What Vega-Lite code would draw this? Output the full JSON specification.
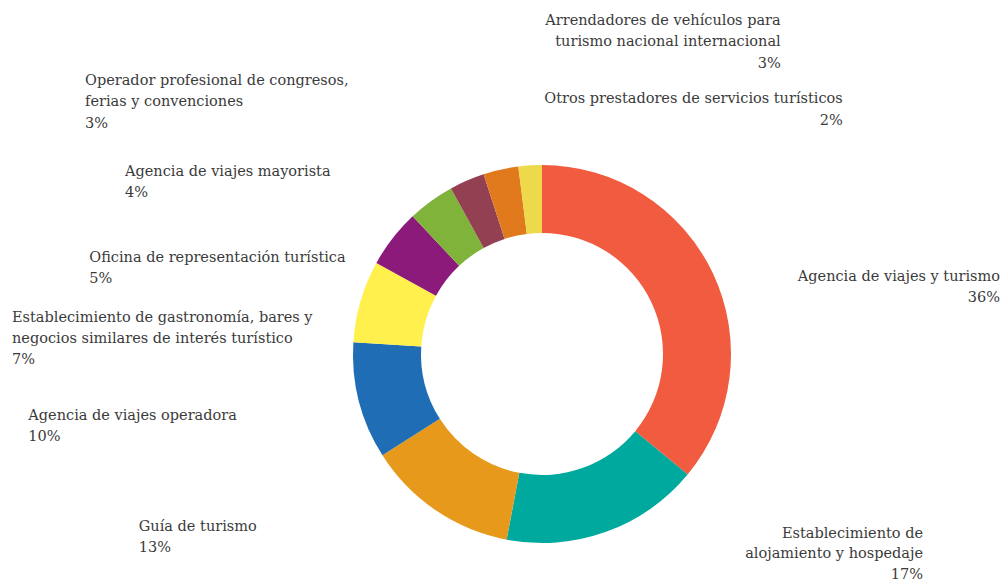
{
  "$schema": "https://vega.github.io/schema/vega-lite/v6.json",
  "autosize": "none",
  "width": 924,
  "height": 456,
  "padding": {"left": 80, "top": 126, "right": 0, "bottom": 0},
  "background": "white",
  "config": {
    "view": {"stroke": null},
    "text": {"font": "DejaVu Serif", "fontSize": 14.5, "fill": "#3b3b3b", "lineHeight": 21.3, "lineBreak": "\n"}
  },
  "data": {
    "values": [
      {"orden": 1, "categoria": "Agencia de viajes y turismo", "valor": 36, "etiqueta": "Agencia de viajes y turismo\n36%"},
      {"orden": 2, "categoria": "Establecimiento de alojamiento y hospedaje", "valor": 17, "etiqueta": "Establecimiento de\nalojamiento y hospedaje\n17%"},
      {"orden": 3, "categoria": "Guía de turismo", "valor": 13, "etiqueta": "Guía de turismo\n13%"},
      {"orden": 4, "categoria": "Agencia de viajes operadora", "valor": 10, "etiqueta": "Agencia de viajes operadora\n10%"},
      {"orden": 5, "categoria": "Establecimiento de gastronomía, bares y negocios similares de interés turístico", "valor": 7, "etiqueta": "Establecimiento de gastronomía, bares y\nnegocios similares de interés turístico\n7%"},
      {"orden": 6, "categoria": "Oficina de representación turística", "valor": 5, "etiqueta": "Oficina de representación turística\n5%"},
      {"orden": 7, "categoria": "Agencia de viajes mayorista", "valor": 4, "etiqueta": "Agencia de viajes mayorista\n4%"},
      {"orden": 8, "categoria": "Operador profesional de congresos, ferias y convenciones", "valor": 3, "etiqueta": "Operador profesional de congresos,\nferias y convenciones\n3%"},
      {"orden": 9, "categoria": "Arrendadores de vehículos para turismo nacional internacional", "valor": 3, "etiqueta": "Arrendadores de vehículos para\nturismo nacional internacional\n3%"},
      {"orden": 10, "categoria": "Otros prestadores de servicios turísticos", "valor": 2, "etiqueta": "Otros prestadores de servicios turísticos\n2%"}
    ]
  },
  "encoding": {
    "theta": {"field": "valor", "type": "quantitative", "stack": true, "scale": {"domain": [0, 100]}},
    "order": {"field": "orden", "type": "quantitative", "sort": "ascending"}
  },
  "layer": [
    {
      "mark": {"type": "arc", "innerRadius": 121, "outerRadius": 189},
      "encoding": {
        "color": {
          "field": "categoria",
          "type": "nominal",
          "legend": null,
          "scale": {
            "domain": [
              "Agencia de viajes y turismo",
              "Establecimiento de alojamiento y hospedaje",
              "Guía de turismo",
              "Agencia de viajes operadora",
              "Establecimiento de gastronomía, bares y negocios similares de interés turístico",
              "Oficina de representación turística",
              "Agencia de viajes mayorista",
              "Operador profesional de congresos, ferias y convenciones",
              "Arrendadores de vehículos para turismo nacional internacional",
              "Otros prestadores de servicios turísticos"
            ],
            "range": ["#F15B40", "#00A99D", "#E7991C", "#1F6DB5", "#FFF04D", "#8C1A7A", "#80B33A", "#934052", "#E07A1C", "#EDD94A"]
          }
        }
      }
    },
    {"mark": {"type": "text", "radius": 189, "align": "right", "baseline": "alphabetic", "dx": 287, "dy": 7.2},
     "encoding": {"text": {"condition": {"test": "datum.orden === 1", "field": "etiqueta", "type": "nominal"}, "value": ""}}},
    {"mark": {"type": "text", "radius": 189, "align": "right", "baseline": "alphabetic", "dx": 317, "dy": 5.7, "lineHeight": 20.5},
     "encoding": {"text": {"condition": {"test": "datum.orden === 2", "field": "etiqueta", "type": "nominal"}, "value": ""}}},
    {"mark": {"type": "text", "radius": 189, "align": "left", "baseline": "alphabetic", "dx": -297, "dy": 20.4},
     "encoding": {"text": {"condition": {"test": "datum.orden === 3", "field": "etiqueta", "type": "nominal"}, "value": ""}}},
    {"mark": {"type": "text", "radius": 189, "align": "left", "baseline": "alphabetic", "dx": -330.6, "dy": 19},
     "encoding": {"text": {"condition": {"test": "datum.orden === 4", "field": "etiqueta", "type": "nominal"}, "value": ""}}},
    {"mark": {"type": "text", "radius": 189, "align": "left", "baseline": "alphabetic", "dx": -348.5, "dy": 20.4},
     "encoding": {"text": {"condition": {"test": "datum.orden === 5", "field": "etiqueta", "type": "nominal"}, "value": ""}}},
    {"mark": {"type": "text", "radius": 189, "align": "left", "baseline": "alphabetic", "dx": -303.4, "dy": 23.5},
     "encoding": {"text": {"condition": {"test": "datum.orden === 6", "field": "etiqueta", "type": "nominal"}, "value": ""}}},
    {"mark": {"type": "text", "radius": 189, "align": "left", "baseline": "alphabetic", "dx": -305.9, "dy": -25.1},
     "encoding": {"text": {"condition": {"test": "datum.orden === 7", "field": "etiqueta", "type": "nominal"}, "value": ""}}},
    {"mark": {"type": "text", "radius": 189, "align": "left", "baseline": "alphabetic", "dx": -381.9, "dy": -95.5},
     "encoding": {"text": {"condition": {"test": "datum.orden === 8", "field": "etiqueta", "type": "nominal"}, "value": ""}}},
    {"mark": {"type": "text", "radius": 189, "align": "right", "baseline": "alphabetic", "dx": 279.9, "dy": -144.6},
     "encoding": {"text": {"condition": {"test": "datum.orden === 9", "field": "etiqueta", "type": "nominal"}, "value": ""}}},
    {"mark": {"type": "text", "radius": 189, "align": "right", "baseline": "alphabetic", "dx": 312.6, "dy": -61.9},
     "encoding": {"text": {"condition": {"test": "datum.orden === 10", "field": "etiqueta", "type": "nominal"}, "value": ""}}}
  ]
}
